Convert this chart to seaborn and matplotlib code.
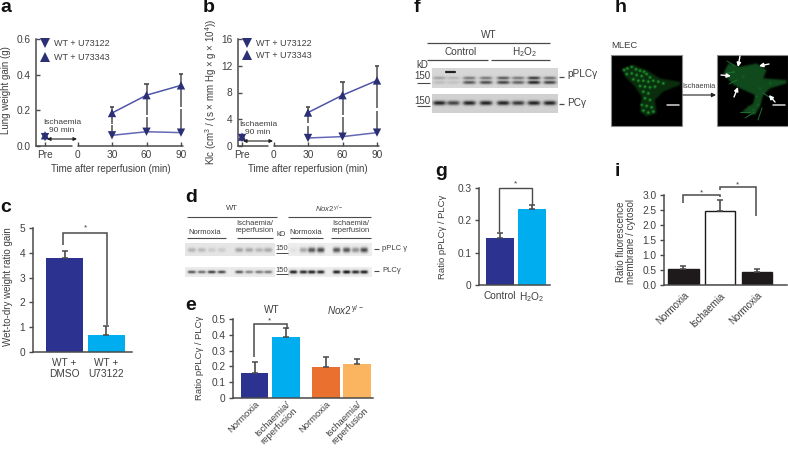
import numpy as np
import pandas as pd
import matplotlib
matplotlib.use('Agg')
import matplotlib.pyplot as plt
from matplotlib.lines import Line2D
from matplotlib.path import Path
import seaborn as sns

W, H = 788, 451
TXT = '#3f3f3f'
LINE = '#4a4a4a'
NAVY = '#2b2f73'
BLUE = '#2b3290'
CYAN = '#00aeef'
ORANGE = '#e9702f'
PEACH = '#fbb561'

# panel a / b
times = [30, 60, 90]
a_u122 = [0.06, 0.08, 0.075]
a_u343 = [0.185, 0.285, 0.34]
a_u343_top = [0.22, 0.345, 0.405]
a_u343_low = [0.125, 0.175, 0.22]
a_u122_top = [0.115, 0.165, 0.205]
a_pre = [0.05, 0.06]
b_u122 = [1.2, 1.4, 2.0]
b_u343 = [5.0, 7.6, 9.8]
b_u343_top = [5.9, 9.5, 12.0]
b_u343_low = [3.4, 4.7, 5.7]
b_u122_top = [3.0, 4.3, 5.3]
b_pre = [1.2, 1.4]

# panel c
c_labels = ['WT +\nDMSO', 'WT +\nU73122']
c_vals = [3.8, 0.7]
c_tops = [4.08, 1.05]
# panel e
e_labels = ['Normoxia', 'Ischaemia/\nreperfusion', 'Normoxia', 'Ischaemia/\nreperfusion']
e_vals = [0.16, 0.385, 0.195, 0.215]
e_tops = [0.225, 0.44, 0.26, 0.25]
# panel g
g_labels = ['Control', 'H$_2$O$_2$']
g_vals = [0.145, 0.235]
g_tops = [0.162, 0.247]
# panel i
i_labels = ['Normoxia', 'Ischaemia', 'Normoxia']
i_vals = [0.53, 2.48, 0.42]
i_tops = [0.62, 2.82, 0.55]

# blot band darkness per lane
d_p_left = [0.22, 0.2, 0.12, 0.12, 0.3, 0.28, 0.22, 0.28]
d_p_right = [0.05, 0.3, 0.65, 0.7, 0.65, 0.65, 0.4, 0.7]
d_t_left = [0.65, 0.55, 0.75, 0.7, 0.65, 0.45, 0.5, 0.5]
d_t_right = [0.9, 0.85, 0.9, 0.85, 0.9, 0.95, 0.85, 0.9]
f_p_low = [0.12, 0.1, 0.6, 0.65, 0.7, 0.55, 0.85, 0.7]
f_p_up = [0.25, 0.15, 0.45, 0.45, 0.6, 0.45, 0.75, 0.5]
f_t = [0.85, 0.7, 0.85, 0.85, 0.85, 0.75, 0.85, 0.85]

sns.set_theme(style='ticks')
plt.rcParams['font.family'] = ['Liberation Sans', 'DejaVu Sans']
plt.rcParams['mathtext.fontset'] = 'custom'
plt.rcParams['mathtext.rm'] = 'Liberation Sans'
plt.rcParams['mathtext.it'] = 'Liberation Sans:italic'
plt.rcParams['mathtext.default'] = 'regular'

fig = plt.figure(figsize=(W / 100, H / 100), dpi=100)


def px_axes(x0, x1, y_top, y_bot):
    """Axes placed in picture pixels."""
    ax = fig.add_axes([x0 / W, 1 - y_bot / H, (x1 - x0) / W, (y_bot - y_top) / H])
    ax.patch.set_alpha(0)
    sns.despine(ax=ax)
    for s in ['left', 'bottom']:
        ax.spines[s].set_color(LINE)
        ax.spines[s].set_linewidth(1.1)
    ax.tick_params(colors=TXT, labelsize=7.3, color=LINE, width=1, length=3, pad=2.5)
    ax.set_xlabel('')
    ax.set_ylabel('')
    return ax


def time_panel(x0, x_pre, x_zero, x30, x_end, ylim, yticks, yfmt, pre, low, up, up_top, up_low, low_top, leg_gap):
    ax = px_axes(x0, x_end, 39, 146)
    k = 30 / (x30 - x_zero)
    pre_t = (x_pre - x_zero) * k
    xlim = ((x0 - x_zero) * k, (x_end - x_zero) * k)
    names = ['WT + U73122', 'WT + U73343']
    df_line = pd.DataFrame({'t': times * 2, 'v': low + up,
                            'treatment': [names[0]] * 3 + [names[1]] * 3})
    # error stems first
    ax.vlines(times, up_low, up_top, color='#5c5c5c', lw=1.2, zorder=1)
    ax.vlines(times, low, low_top, color='#5c5c5c', lw=1.2, zorder=1)
    ax.hlines(up_top, np.array(times) - 2, np.array(times) + 2, color=LINE, lw=1.2, zorder=1)
    sns.lineplot(data=df_line, x='t', y='v', hue='treatment', palette=['#6468b4', '#5055a8'],
                 lw=1.1, legend=False, errorbar=None, ax=ax)
    df_pts = pd.DataFrame({'t': [pre_t] * 2 + times * 2, 'v': pre + low + up,
                           'treatment': names + [names[0]] * 3 + [names[1]] * 3})
    sns.scatterplot(data=df_pts, x='t', y='v', hue='treatment', style='treatment',
                    palette=[NAVY, NAVY], markers={names[0]: 'v', names[1]: '^'},
                    s=36, linewidth=0, legend=False, ax=ax, zorder=3, clip_on=False)
    ax.set_xlim(*xlim)
    ax.set_ylim(*ylim)
    ax.set_yticks(yticks)
    ax.set_yticklabels([yfmt % v for v in yticks])
    ax.set_xticks([pre_t, 0, 30, 60, 90])
    ax.set_xticklabels(['Pre', '0', '30', '60', '90'])
    ax.tick_params(axis='both', direction='in')
    ax.tick_params(axis='x', pad=3)
    ax.tick_params(axis='y', pad=4)
    ax.set_xlabel('')
    ax.set_ylabel('')
    # axis break just before 0
    ax.spines['bottom'].set_visible(False)
    ax.plot([xlim[0], -4.5], [ylim[0], ylim[0]], color=LINE, lw=1.1, clip_on=False)
    ax.plot([0.5, xlim[1]], [ylim[0], ylim[0]], color=LINE, lw=1.1, clip_on=False)
    handles = [Line2D([], [], ls='', marker=m, color=NAVY, ms=6.5, mew=0) for m in 'v^']
    ax.legend(handles, names, loc='upper left', bbox_to_anchor=(0.015, 1.0), frameon=False,
              fontsize=6.5, labelspacing=leg_gap, handletextpad=0.2, handlelength=1.6,
              labelcolor=TXT, borderaxespad=0, borderpad=0)
    return ax


def bar_panel(x0, x1, y_top, y_bot, centers, width, vals, tops, colors, labels, ylim, yticks, yfmt, edge=None):
    ax = px_axes(x0, x1, y_top, y_bot)
    df = pd.DataFrame({'x': centers, 'y': vals, 'g': [str(c) for c in centers]})
    step = np.min(np.diff(centers))
    sns.barplot(data=df, x='x', y='y', hue='g', palette=colors, native_scale=True, dodge=False,
                width=width / step, saturation=1, errorbar=None, legend=False, ax=ax,
                edgecolor=edge if edge else 'none', linewidth=1.0 if edge else 0)
    lower = np.zeros(len(vals))
    upper = np.array(tops) - np.array(vals)
    ax.errorbar(centers, vals, yerr=[lower, upper], fmt='none', ecolor=LINE, elinewidth=1.2,
                capsize=2, capthick=1.1, zorder=1)
    ax.set_xlim(x0, x1)
    ax.set_ylim(*ylim)
    ax.set_yticks(yticks)
    ax.set_yticklabels([yfmt % v for v in yticks])
    ax.set_xticks(centers)
    ax.set_xticklabels(labels)
    ax.tick_params(axis='x', length=0, pad=4)
    ax.set_xlabel('')
    ax.set_ylabel('')
    return ax


time_panel(36, 45, 77.5, 112, 183, (0, 0.6), [0, 0.2, 0.4, 0.6], '%.1f',
           a_pre, a_u122, a_u343, a_u343_top, a_u343_low, a_u122_top, 0.55)
time_panel(238, 242, 273.5, 308, 379, (0, 16), [0, 4, 8, 12, 16], '%d',
           b_pre, b_u122, b_u343, b_u343_top, b_u343_low, b_u122_top, 0.3)

bar_panel(33, 132, 228, 352, [64.5, 106], 37, c_vals, c_tops, [BLUE, CYAN], c_labels,
          (0, 5), [0, 1, 2, 3, 4, 5], '%d')

ax_e = bar_panel(233, 373, 319, 398, [254.5, 286, 326, 357], 27.5, e_vals, e_tops,
                 [BLUE, CYAN, ORANGE, PEACH], e_labels, (0, 0.5), [0, 0.1, 0.2, 0.3, 0.4, 0.5], '%g')
plt.setp(ax_e.get_xticklabels(), rotation=45, ha='right', rotation_mode='anchor', fontsize=6.8,
         linespacing=1.0)
ax_e.tick_params(axis='x', pad=1)

bar_panel(479, 550, 188, 285, [500, 532], 28, g_vals, g_tops, [BLUE, CYAN], g_labels,
          (0, 0.3), [0, 0.1, 0.2, 0.3], '%g')

ax_i = bar_panel(664, 787, 195, 285, [683.5, 720, 757], 30.5, i_vals, i_tops,
                 ['#1e1a1b', '#ffffff', '#1e1a1b'], i_labels, (0, 3),
                 [0, 0.5, 1, 1.5, 2, 2.5, 3], '%.1f', edge='#1e1a1b')
plt.setp(ax_i.get_xticklabels(), rotation=45, ha='right', rotation_mode='anchor', fontsize=7)

# everything else is placed in picture pixels on one transparent layer
ov = fig.add_axes([0, 0, 1, 1], zorder=10)
ov.patch.set_alpha(0)
ov.axis('off')


def T(x, y, s, size=7.2, ha='center', va='center', **kw):
    kw.setdefault('color', TXT)
    ov.text(x, y, s, fontsize=size, ha=ha, va=va, **kw)


def L(xs, ys, lw=1.0, color=LINE):
    ov.plot(xs, ys, color=color, lw=lw, solid_capstyle='butt', solid_joinstyle='miter')


def blot(x0, x1, y0, y1, bg, lanes, rows):
    """Grey strip with soft bands; rows = (y centre, half height, darkness per lane)."""
    xs = np.linspace(x0, x1, int((x1 - x0) * 3))
    ys = np.linspace(y0, y1, int((y1 - y0) * 3))
    gx, gy = np.meshgrid(xs, ys)
    dark = np.zeros_like(gx)
    half = np.min(np.diff(lanes)) * 0.45
    for yc, hh, levels in rows:
        for xc, d in zip(lanes, levels):
            dark += d * np.exp(-((gx - xc) / half) ** 4) * np.exp(-((gy - yc) / hh) ** 2)
    ov.imshow(np.clip(bg * (1 - dark), 0, 1), extent=[x0, x1, y1, y0], cmap='gray', vmin=0, vmax=1,
              aspect='auto', interpolation='bilinear')


def blur(a, n):
    kern = np.exp(-np.linspace(-2, 2, n) ** 2)
    kern /= kern.sum()
    a = np.apply_along_axis(lambda r: np.convolve(r, kern, mode='same'), 0, a)
    return np.apply_along_axis(lambda r: np.convolve(r, kern, mode='same'), 1, a)


def cell(x0, x1, y0, y1, outline, spots, base, spot_gain, color):
    res = 4
    n = int((x1 - x0) * res)
    xs = np.linspace(x0, x1, n)
    ys = np.linspace(y0, y1, n)
    gx, gy = np.meshgrid(xs, ys)
    pts = np.column_stack([gx.ravel(), gy.ravel()])
    poly = [(600 + a / 3, 50 + b / 3) for a, b in outline]
    mask = Path(poly).contains_points(pts).reshape(gx.shape).astype(float)
    val = blur(mask, 19) * base
    for sx, sy in spots:
        cx, cy = 600 + sx / 3, 50 + sy / 3
        val += spot_gain * np.exp(-(((gx - cx) ** 2 + (gy - cy) ** 2) / 1.6))
    val = np.clip(val, 0, 1)
    rgb = np.dstack([val * color[0], val * color[1], val * color[2]])
    ov.imshow(rgb, extent=[x0, x1, y1, y0], aspect='auto', interpolation='bilinear')
    L([x0, x1, x1, x0, x0], [y0, y0, y1, y1, y0], lw=0.8, color='#8a8a8a')


# panel letters
for s, x, y in [('a', 0, 8), ('b', 203, 8), ('c', 0, 208), ('d', 185, 197), ('e', 185, 305),
                ('f', 414, 8), ('g', 435, 171), ('h', 615, 8), ('i', 615, 172)]:
    T(x, y, s, size=14, ha='left', fontweight='bold', color='#111111')

# axis titles
T(111, 169, 'Time after reperfusion (min)', size=7)
T(308, 169, 'Time after reperfusion (min)', size=7)
T(6, 90, 'Lung weight gain (g)', size=7, rotation=90)
T(211, 92, r'Klc (cm$^3$ / (s × mm Hg × g × 10$^4$))', size=7, rotation=90)
T(8, 287, 'Wet-to-dry weight ratio gain', size=7, rotation=90)
T(200, 358, 'Ratio pPLCγ / PLCγ', size=6.8, rotation=90)
T(443, 237, 'Ratio pPLCγ / PLCγ', size=6.8, rotation=90)
T(626, 242, 'Ratio fluorescence\nmembrane / cytosol', size=7, rotation=90, linespacing=1.05)

# ischaemia notes on a and b
for cx, y1, y2, ya, xa0, xa1 in [(62, 122, 131, 139, 47, 77), (258, 124, 133, 141, 243, 273)]:
    T(cx, y1, 'Ischaemia', size=6)
    T(cx, y2, '90 min', size=6)
    ov.annotate('', xy=(xa1, ya), xytext=(xa0, ya),
                arrowprops=dict(arrowstyle='<|-|>', color='#222222', lw=0.8, mutation_scale=5,
                                shrinkA=0, shrinkB=0))

# significance brackets
L([63, 63, 107, 107], [245, 233, 233, 325], lw=1.1)
T(86, 228, '*', size=6)
L([254, 254, 287, 287], [357, 324, 324, 329], lw=1.1)
T(270, 321, '*', size=6)
L([499, 499, 532, 532], [232, 188, 188, 205], lw=1.0)
T(516, 184, '*', size=6)
L([683, 683, 720, 720], [203, 195, 195, 197], lw=1.1)
T(702, 193, '*', size=6)
L([720, 720, 756, 756], [190, 187, 187, 216], lw=1.1)
T(738, 185, '*', size=6)

# group headings on e
T(272, 310, 'WT', size=7.2)
T(345, 310, r'$\mathit{Nox2}^{\,y/-}$', size=7.2)

# panel d
lanes_dl = [191.7, 201.7, 211.7, 221.7, 239.3, 249.3, 259.3, 268.3]
lanes_dr = [293.3, 303.3, 311.7, 320.7, 336.7, 346.7, 355.7, 364.3]
blot(185, 275, 243, 256, 0.9, lanes_dl, [(250, 2.2, d_p_left)])
blot(288, 372, 243, 256, 0.93, lanes_dr, [(250, 2.6, d_p_right)])
blot(185, 275, 267, 277, 0.92, lanes_dl, [(272, 1.5, d_t_left)])
blot(288, 372, 267, 277, 0.93, lanes_dr, [(272, 1.7, d_t_right)])
T(232, 209, 'WT', size=5.5)
L([187, 277], [217, 217], lw=0.8)
T(329, 209, r'$\mathit{Nox2}^{\,y/-}$', size=5.5)
L([288, 371], [217, 217], lw=0.8)
T(205, 233, 'Normoxia', size=5.5)
L([187, 226], [238, 238], lw=0.8)
T(255, 227, 'Ischaemia/\nreperfusion', size=5.5, linespacing=1.05)
L([237, 273], [238, 238], lw=0.8)
T(281, 235, 'kD', size=5.5)
T(306, 233, 'Normoxia', size=5.5)
L([290, 323], [238, 238], lw=0.8)
T(351, 227, 'Ischaemia/\nreperfusion', size=5.5, linespacing=1.05)
L([331, 371], [238, 238], lw=0.8)
T(282, 249, '150', size=5.5)
L([276, 288], [253, 253], lw=0.7)
T(282, 270, '150', size=5.5)
L([276, 288], [274, 274], lw=0.7)
L([374, 379], [249, 249], lw=0.8)
T(382, 248, 'pPLC γ', size=5.5, ha='left')
L([374, 379], [271, 271], lw=0.8)
T(382, 270, 'PLCγ', size=5.5, ha='left')

# panel f
lanes_f = [439.3, 453.3, 469.3, 486, 503.3, 518.3, 534, 550]
blot(432, 558, 68, 88, 0.84, lanes_f, [(78, 1.5, f_p_up), (82.5, 1.7, f_p_low)])
blot(432, 558, 94, 113, 0.82, lanes_f, [(103, 2.2, f_t)])
ov.plot([446, 455], [71.5, 71.5], color='#222222', lw=1.6)
T(489, 35, 'WT', size=7.2)
L([427, 550], [43, 43], lw=0.9)
T(461, 52, 'Control', size=7.2)
L([427, 488], [60, 60], lw=0.9)
T(524, 52, 'H$_2$O$_2$', size=7.2)
L([491, 550], [60, 60], lw=0.9)
T(422, 65, 'kD', size=7)
T(422, 76, '150', size=7)
L([417, 430], [83, 83], lw=0.8)
T(422, 101, '150', size=7)
L([417, 430], [106, 106], lw=0.8)
L([559, 564], [77, 77], lw=0.9)
T(567, 74, 'pPLCγ', size=7.2, ha='left')
L([559, 564], [104, 104], lw=0.9)
T(567, 103, 'PCγ', size=7.2, ha='left')

# panel h, two confocal frames
left_outline = [(65, 55), (100, 45), (140, 60), (180, 85), (240, 95), (240, 105), (190, 125), (165, 150),
                (170, 190), (140, 200), (120, 185), (125, 140), (105, 110), (75, 80)]
left_spots = [(72, 60), (82, 55), (95, 50), (108, 58), (120, 62), (132, 65), (80, 72), (95, 70), (110, 75),
              (125, 78), (140, 72), (150, 82), (100, 88), (115, 92), (130, 92), (145, 95), (160, 92),
              (175, 95), (190, 100), (120, 108), (135, 110), (150, 112), (165, 110), (130, 125), (145, 130),
              (135, 145), (150, 150), (125, 165), (140, 168), (155, 172), (130, 182), (145, 188), (160, 185)]
right_outline = [(385, 40), (420, 50), (470, 40), (500, 60), (490, 85), (560, 90), (560, 100), (510, 115),
                 (490, 135), (480, 170), (465, 195), (425, 185), (460, 160), (465, 135), (420, 115),
                 (395, 100), (370, 70)]
right_spots = [(400, 65), (430, 80), (510, 100), (480, 115), (470, 140), (445, 170), (460, 180), (475, 165)]
cell(611, 682, 55, 126, left_outline, left_spots, 0.18, 0.5, (0.2, 1.0, 0.3))
cell(717, 788, 55, 126, right_outline, right_spots, 0.36, 0.12, (0.18, 0.8, 0.3))
for xs, ys in [([735, 727], [66, 61]), ([735, 727], [72, 73]), ([737, 729], [80, 84]),
               ([763, 772], [93, 99]), ([762, 758], [108, 120]), ([755, 745], [112, 118]), ([750, 740], [112, 112])]:
    ov.plot(xs, ys, color='#1f6e33', lw=0.7)
ov.plot([667, 679], [105, 105], color='#d8d8d8', lw=1.1)
ov.plot([773, 785], [105, 105], color='#d8d8d8', lw=1.1)
for tip, tail in [((738, 67), (740, 56)), ((759, 66), (769, 64)), ((731, 76), (721, 75)),
                  ((738, 87), (734, 97)), ((769, 95), (775, 102))]:
    ov.annotate('', xy=tip, xytext=tail,
                arrowprops=dict(arrowstyle='-|>', color='white', lw=1.0, mutation_scale=6,
                                shrinkA=0, shrinkB=0))
T(611, 46, 'MLEC', size=6.8, ha='left')
T(699, 87, 'Ischaemia', size=5.3)
ov.annotate('', xy=(716, 95), xytext=(683, 95),
            arrowprops=dict(arrowstyle='-|>', color='#222222', lw=0.8, mutation_scale=6, shrinkA=0, shrinkB=0))

ov.set_xlim(0, W)
ov.set_ylim(H, 0)

fig.savefig('out.png', dpi=100)
